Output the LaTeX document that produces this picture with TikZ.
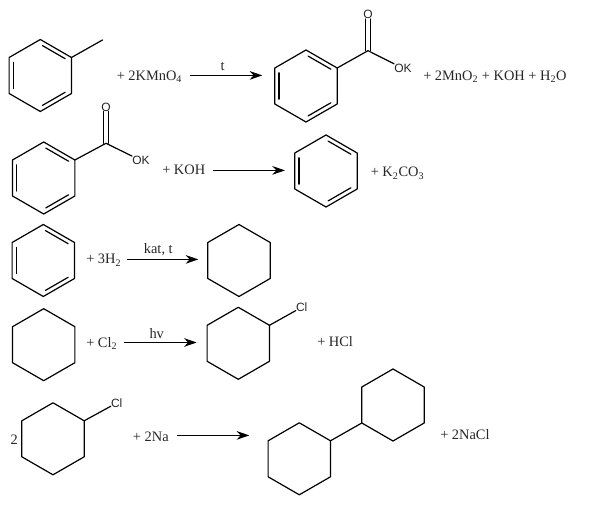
\documentclass[tikz,border=0pt]{standalone}
\usepackage{fontspec}
\setmainfont{Liberation Serif}
\newfontfamily\atomfont{Liberation Sans}
\usetikzlibrary{arrows.meta}
\tikzset{
    bond/.style={line width=0.9pt, line join=round, line cap=round},
    rxn/.style={line width=1pt, -{Stealth[length=9.5pt,width=6.5pt]}},
    chem/.style={anchor=base west, inner sep=0pt, font=\fontsize{10.8}{12}\selectfont, text=black!85},
    cond/.style={anchor=base, inner sep=0pt, font=\fontsize{10.8}{12}\selectfont, text=black!85},
    atom/.style={inner sep=0pt, font=\atomfont\fontsize{9}{10}\selectfont, text=black!85},
    hexring/.pic={
        \draw[bond] (90:36) -- (30:36) -- (-30:36) -- (-90:36) -- (-150:36) -- (150:36) -- cycle;
        \coordinate (-ne) at (-30:36);
        \coordinate (-sw) at (150:36);
    },
    dblbonds/.pic={
        \draw[bond] (154:30) -- (206:30);
        \draw[bond] (34:30) -- (86:30);
        \draw[bond] (-34:30) -- (-86:30);
    },
}

\begin{document}
\begin{tikzpicture}[x=0.75pt, y=-0.75pt]
    \fill[white] (0,0) rectangle (600,505);
    \useasboundingbox (0,0) rectangle (600,505);

    % first row
    \pic (tol) at (40.3,75.5) {hexring};
    \pic at (40.3,75.5) {dblbonds};
    \coordinate (tolme) at (102.5,40);
    \draw[bond] (tol-ne) -- (tolme);
    \node[chem] (kmno) at (116.5,80.2) {+ 2KMnO\textsubscript{4}};
    \coordinate (a1s) at (190,75.4);
    \coordinate (a1e) at (262.3,75.4);
    \draw[rxn] (a1s) -- (a1e);
    \node[cond] (t1) at (222.7,71) {t};

    \pic (bza) at (306,86) {hexring};
    \pic at (306,86) {dblbonds};
    \coordinate (ca) at (368,50.7);
    \node[atom] (oa) at (368,14.5) {O};
    \node[atom] (oka) at (403,68.3) {OK};
    \draw[bond] (bza-ne) -- (ca);
    \draw[bond] (ca) -- (oka);
    \draw[bond] ([xshift=-1.7pt]ca) -- ([xshift=-1.7pt]oa.south);
    \draw[bond] ([xshift=1.7pt]ca) -- ([xshift=1.7pt]oa.south);
    \node[chem] (prod1) at (423,80.5) {+ 2MnO\textsubscript{2} + KOH + H\textsubscript{2}O};

    % second row
    \pic (bzb) at (43.7,178) {hexring};
    \pic at (43.7,178) {dblbonds};
    \coordinate (cb) at (106,143.3);
    \node[atom] (ob) at (106,107) {O};
    \node[atom] (okb) at (141,160.5) {OK};
    \draw[bond] (bzb-ne) -- (cb);
    \draw[bond] (cb) -- (okb);
    \draw[bond] ([xshift=-1.7pt]cb) -- ([xshift=-1.7pt]ob.south);
    \draw[bond] ([xshift=1.7pt]cb) -- ([xshift=1.7pt]ob.south);
    \node[chem] (koh) at (162,175) {+ KOH};
    \coordinate (a2s) at (212.7,170.4);
    \coordinate (a2e) at (285,170.4);
    \draw[rxn] (a2s) -- (a2e);
    \pic (benz) at (326,171) {hexring};
    \pic at (326,171) {dblbonds};
    \node[chem] (kco) at (370.5,177) {+ K\textsubscript{2}CO\textsubscript{3}};

    % third row
    \pic (benzb) at (43.3,260.5) {hexring};
    \pic at (43.3,260.5) {dblbonds};
    \node[chem] (hh) at (86,264) {+ 3H\textsubscript{2}};
    \coordinate (a3s) at (126.7,259.4);
    \coordinate (a3e) at (198.3,259.4);
    \draw[rxn] (a3s) -- (a3e);
    \node[cond] (kat) at (158.3,253.5) {kat, t};
    \pic (cha) at (239,260.5) {hexring};

    % fourth row
    \pic (chb) at (43.7,344.7) {hexring};
    \node[chem] (cl) at (86,347.3) {+ Cl\textsubscript{2}};
    \coordinate (a4s) at (124,342.5);
    \coordinate (a4e) at (196.7,342.5);
    \draw[rxn] (a4s) -- (a4e);
    \node[cond] (hv) at (156.7,338.5) {hv};
    \pic (chc) at (238.3,343.3) {hexring};
    \node[atom] (cla) at (301.7,307.3) {Cl};
    \draw[bond] (chc-ne) -- (cla);
    \node[chem] (hcl) at (317,347) {+ HCl};

    % fifth row
    \node[chem] (two) at (10.3,444.5) {2};
    \pic (chd) at (53,438.8) {hexring};
    \node[atom] (clb) at (116.7,403) {Cl};
    \draw[bond] (chd-ne) -- (clb);
    \node[chem] (na) at (132.7,441.5) {+ 2Na};
    \coordinate (a5s) at (177.3,435.4);
    \coordinate (a5e) at (249.3,435.4);
    \draw[rxn] (a5s) -- (a5e);
    \pic (che) at (299.3,458.8) {hexring};
    \pic (chf) at (393,405) {hexring};
    \draw[bond] (che-ne) -- (chf-sw);
    \node[chem] (nacl) at (440,439.7) {+ 2NaCl};
\end{tikzpicture}
\end{document}
